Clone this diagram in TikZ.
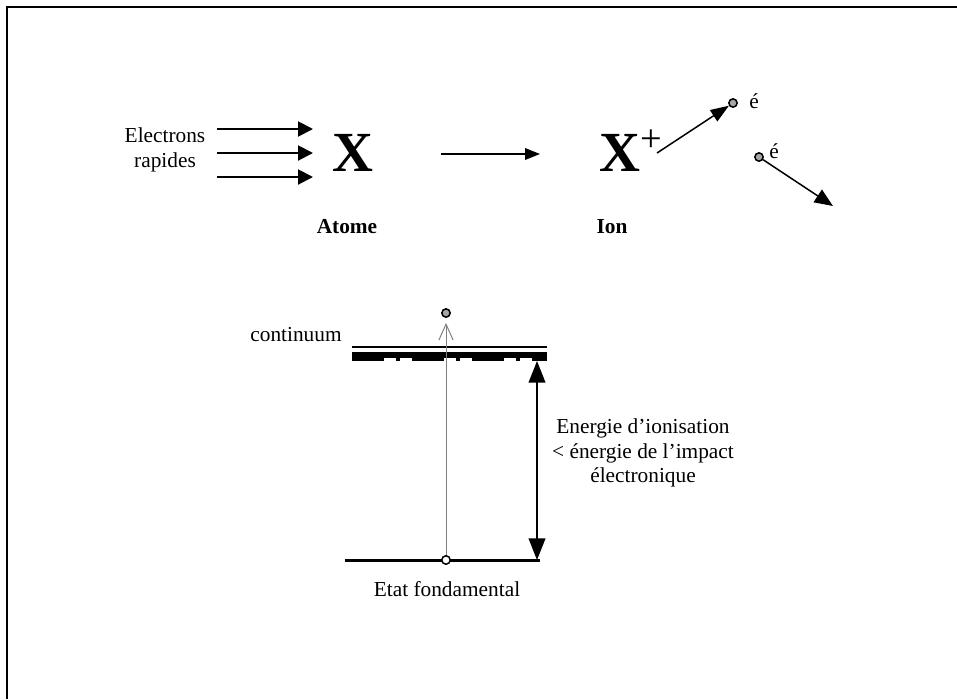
\documentclass[tikz,border=0pt]{standalone}
\usepackage{fontspec}
\setmainfont{Liberation Serif}
\usepackage{tikz}
\usetikzlibrary{arrows.meta}

\begin{document}
\begin{tikzpicture}[x=0.6pt, y=-0.6pt,
				textnode/.style={font=\fontsize{12.8}{15}\selectfont, inner sep=0pt, align=center},
				bignode/.style={font=\fontsize{34}{40}\selectfont\bfseries, inner sep=0pt},
				dotnode/.style={circle, draw=black, fill=gray!70, line width=0.9pt, minimum size=5pt, inner sep=0pt},
				opennode/.style={circle, draw=black, fill=white, line width=0.8pt, minimum size=5pt, inner sep=0pt},
				beam/.style={line width=1.2pt, -{Triangle[length=9pt, width=9pt]}},
				]
				\useasboundingbox (0,0) rectangle (957,699);
				\draw[line width=1.2pt] (7,699) -- (7,7) -- (957,7);

				%Nodes
				\node[textnode]		(electrons)	at (165,150)	{Electrons\\rapides};
				\node[bignode]		(atomX)		at (353,153)	{X};
				\node[textnode, font=\fontsize{12.8}{15}\selectfont\bfseries]	(atome)	at (347,227)	{Atome};
				\node[bignode]		(ionX)		at (631,151)	{X\raisebox{12pt}{\fontsize{23}{23}\selectfont\mdseries +}};
				\node[textnode, font=\fontsize{12.8}{15}\selectfont\bfseries]	(ion)	at (612,227)	{Ion};
				\node[dotnode]		(e1)		at (733,103)	{};
				\node[textnode]		(e1label)	at (754,101)	{é};
				\node[dotnode]		(e2)		at (759,157)	{};
				\node[textnode]		(e2label)	at (774,151)	{é};
				\node[textnode]		(continuum)	at (296,335)	{continuum};
				\node[dotnode]		(free)		at (446,313)	{};
				\node[opennode]		(ground)	at (446,560)	{};
				\node[textnode]		(fondamental)	at (447,589)	{Etat fondamental};
				\node[textnode, font=\fontsize{12.8}{14.6}\selectfont]	(energie)	at (643,453)	{Energie d’ionisation\\< énergie de l’impact\\électronique};

				%Coordinates
				\coordinate (b1s) at (217,129);	\coordinate (b1e) at (313,129);
				\coordinate (b2s) at (217,153);	\coordinate (b2e) at (313,153);
				\coordinate (b3s) at (217,177);	\coordinate (b3e) at (313,177);
				\coordinate (rs) at (441,154);	\coordinate (re) at (540,154);
				\coordinate (ionout) at (657,153);
				\coordinate (e2end) at (833,206);
				\coordinate (levL) at (352,347);	\coordinate (levR) at (547,347);
				\coordinate (gndL) at (345,560);	\coordinate (gndR) at (540,560);
				\coordinate (ieTop) at (537,361);	\coordinate (ieBot) at (537,560);

				%Lines
				\draw[beam]	(b1s) -- (b1e);
				\draw[beam]	(b2s) -- (b2e);
				\draw[beam]	(b3s) -- (b3e);
				\draw[line width=0.8pt, -{Triangle[length=9pt, width=7pt]}]	(rs) -- (re);
				\draw[line width=0.9pt, -{Triangle[length=11pt, width=8pt]}]	(ionout) -- (e1);
				\draw[line width=0.9pt, -{Triangle[length=11pt, width=9pt]}]	(e2) -- (e2end);

				%Levels
				\draw[line width=0.9pt]	(levL) -- (levR);
				\draw[line width=3.6pt]	([yshift=-5pt]levL) -- ([yshift=-5pt]levR);
				\draw[line width=1.8pt, dash pattern=on 19.2pt off 7.2pt on 2.4pt off 7.2pt]	([yshift=-7.6pt]levL) -- ([yshift=-7.6pt]levR);
				\draw[line width=1.8pt]	(gndL) -- (gndR);
				\draw[gray, line width=0.6pt, -{Straight Barb[length=9.5pt, width=8.5pt]}]	(ground) -- ([yshift=-3pt]free.south);
				\draw[line width=1.2pt, {Triangle[length=13pt, width=10pt]}-{Triangle[length=13pt, width=10pt]}]	(ieTop) -- (ieBot);
				\node[opennode] at (ground) {};
			\end{tikzpicture}
\end{document}
